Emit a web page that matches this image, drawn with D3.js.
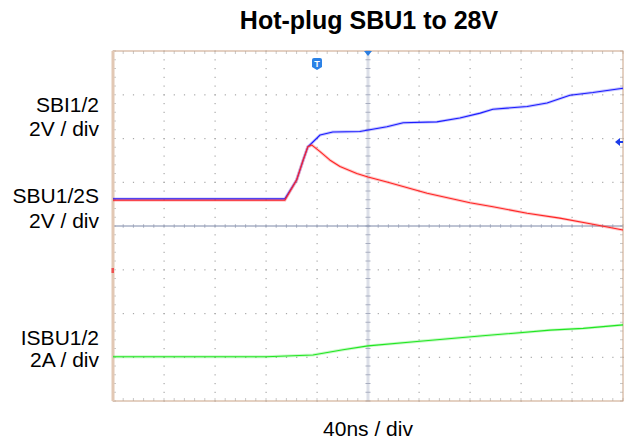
<!DOCTYPE html>
<html>
<head>
<meta charset="utf-8">
<script src="https://d3js.org/d3.v7.min.js"></script>
<style>
  body { margin: 0; background: #fff; }
  text { font-family: "Liberation Sans", Arial, sans-serif; }
</style>
</head>
<body>
<svg width="629" height="445"></svg>
<script>
var svg = d3.select('svg');

// scope screen: 10 horizontal divisions (40ns each), 8 vertical divisions, 0 = centre line
var bluePos = [0, 3.37, 3.60, 3.73, 3.82, 3.92, 4.06, 4.31, 4.84, 5.37, 5.69, 6.35, 6.80, 7.20, 7.45, 8.12, 8.51, 8.96, 9.41, 10];
var blueVal = [0.62, 0.62, 1.05, 1.51, 1.81, 1.92, 2.08, 2.15, 2.16, 2.27, 2.36, 2.38, 2.47, 2.58, 2.67, 2.73, 2.81, 2.99, 3.05, 3.15];

var redPos = [0, 3.37, 3.60, 3.73, 3.82, 3.90, 4.06, 4.25, 4.45, 4.78, 5.0, 5.39, 6.16, 7.0, 7.45, 8.12, 8.76, 9.41, 10];
var redVal = [0.59, 0.59, 1.05, 1.51, 1.81, 1.85, 1.70, 1.51, 1.36, 1.20, 1.12, 1.00, 0.75, 0.53, 0.44, 0.29, 0.18, 0.04, -0.09];

var greenPos = [0, 3.0, 3.92, 4.51, 5.0, 5.96, 7.25, 8.57, 9.22, 10];
var greenVal = [-2.99, -2.99, -2.95, -2.83, -2.74, -2.64, -2.51, -2.38, -2.34, -2.26];

var channelLabels = [
  {lines: ['SBI1/2', '2V / div'], y: [112, 136]},
  {lines: ['SBU1/2S', '2V / div'], y: [203, 228]},
  {lines: ['ISBU1/2', '2A / div'], y: [345, 367]}
];

var x = d3.scaleLinear().domain([0, 10]).range([113, 623]);
var y = d3.scaleLinear().domain([-4, 4]).range([401, 51]);

var minorX = d3.range(0, 10.01, 0.2);
var minorY = d3.range(-4, 4.01, 0.2);
var grid = svg.append('g');

// dotted major grid
d3.range(1, 10).forEach(function(i) {
  if (i == 5) return;
  grid.selectAll(null).data(minorY).enter().append('rect')
    .attr('x', x(i) - 0.5).attr('y', function(d) { return y(d) - 0.5; })
    .attr('width', 1.2).attr('height', 1.2).attr('fill', '#a8a8a8');
});
d3.range(-3, 4).forEach(function(j) {
  if (j == 0) return;
  grid.selectAll(null).data(minorX).enter().append('rect')
    .attr('x', function(d) { return x(d) - 0.5; }).attr('y', y(j) - 0.5)
    .attr('width', 1.2).attr('height', 1.2).attr('fill', '#a8a8a8');
});

// border ticks
grid.selectAll(null).data(minorX).enter().append('line')
  .attr('x1', function(d) { return x(d); }).attr('x2', function(d) { return x(d); })
  .attr('y1', y(4)).attr('y2', y(4) + 3).attr('stroke', '#c8c8c8');
grid.selectAll(null).data(minorX).enter().append('line')
  .attr('x1', function(d) { return x(d); }).attr('x2', function(d) { return x(d); })
  .attr('y1', y(-4)).attr('y2', y(-4) - 3).attr('stroke', '#c8c8c8');
grid.selectAll(null).data(minorY).enter().append('line')
  .attr('x1', x(0)).attr('x2', x(0) + 3)
  .attr('y1', function(d) { return y(d); }).attr('y2', function(d) { return y(d); })
  .attr('stroke', '#c8c8c8');
grid.selectAll(null).data(minorY).enter().append('line')
  .attr('x1', x(10)).attr('x2', x(10) - 3)
  .attr('y1', function(d) { return y(d); }).attr('y2', function(d) { return y(d); })
  .attr('stroke', '#c8c8c8');

// centre vertical line with ticks
grid.append('line')
  .attr('x1', x(5)).attr('x2', x(5)).attr('y1', y(4)).attr('y2', y(-4))
  .attr('stroke', '#dcdfe8').attr('stroke-width', 3);
grid.selectAll(null).data(minorY).enter().append('line')
  .attr('x1', x(5) - 2.5).attr('x2', x(5) + 2.5)
  .attr('y1', function(d) { return y(d); }).attr('y2', function(d) { return y(d); })
  .attr('stroke', '#a8aec0');

// centre horizontal line with ticks
grid.selectAll(null).data(minorX).enter().append('line')
  .attr('x1', function(d) { return x(d); }).attr('x2', function(d) { return x(d); })
  .attr('y1', y(0) - 2).attr('y2', y(0) + 2).attr('stroke', '#c0c4d0');
grid.append('line')
  .attr('x1', x(0)).attr('x2', x(10)).attr('y1', y(0)).attr('y2', y(0))
  .attr('stroke', '#7c88a8').attr('stroke-width', 1);

// frame
svg.append('rect')
  .attr('x', x(0)).attr('y', y(4))
  .attr('width', x(10) - x(0)).attr('height', y(-4) - y(4))
  .attr('fill', 'none').attr('stroke', '#c9a285').attr('stroke-width', 1);
svg.append('line')
  .attr('x1', x(0)).attr('x2', x(0)).attr('y1', y(4)).attr('y2', y(-4))
  .attr('stroke', '#e2c8b4').attr('stroke-width', 3);

// traces
function trace(pos, val, color) {
  var pts = pos.map(function(p, i) { return [p, val[i]]; });
  var line = d3.line()
    .x(function(d) { return x(d[0]); })
    .y(function(d) { return y(d[1]); });
  svg.append('path')
    .datum(pts)
    .attr('fill', 'none')
    .attr('stroke', color)
    .attr('stroke-opacity', 0.25)
    .attr('stroke-width', 3)
    .attr('d', line);
  svg.append('path')
    .datum(pts)
    .attr('fill', 'none')
    .attr('stroke', color)
    .attr('stroke-width', 1.1)
    .attr('stroke-linejoin', 'round')
    .attr('d', line);
}
trace(greenPos, greenVal, '#22e622');
trace(bluePos, blueVal, '#1c1cff');
trace(redPos, redVal, '#ff2424');

// markers
svg.append('path')
  .attr('d', 'M' + (x(5) - 4) + ',' + y(4) + 'L' + (x(5) + 4) + ',' + y(4) + 'L' + x(5) + ',' + (y(4) + 5) + 'Z')
  .attr('fill', '#2a7de0');
var tx = x(4.0), ty = 58;
svg.append('path')
  .attr('d', 'M' + (tx - 5) + ',' + (ty + 2) + 'Q' + (tx - 5) + ',' + ty + ' ' + (tx - 3) + ',' + ty +
    'L' + (tx + 3) + ',' + ty + 'Q' + (tx + 5) + ',' + ty + ' ' + (tx + 5) + ',' + (ty + 2) +
    'L' + (tx + 5) + ',' + (ty + 9) + 'L' + tx + ',' + (ty + 12) + 'L' + (tx - 5) + ',' + (ty + 9) + 'Z')
  .attr('fill', '#2b82e6');
svg.append('text')
  .attr('x', tx).attr('y', ty + 9)
  .attr('text-anchor', 'middle')
  .attr('font-size', 9).attr('font-weight', 'bold')
  .attr('fill', '#fff')
  .text('T');
svg.append('path')
  .attr('d', 'M' + (x(10) - 8) + ',' + (y(0) - 84) + 'L' + (x(10) - 3) + ',' + (y(0) - 88) + 'L' + (x(10) - 3) + ',' + (y(0) - 80) + 'Z')
  .attr('fill', '#1c3ce8');
svg.append('line')
  .attr('x1', x(10) - 4).attr('x2', x(10)).attr('y1', y(0) - 84).attr('y2', y(0) - 84)
  .attr('stroke', '#1c3ce8').attr('stroke-width', 2);
svg.append('rect')
  .attr('x', x(0) - 1.5).attr('y', 268).attr('width', 2.5).attr('height', 5)
  .attr('fill', '#f05050');

// labels
svg.append('text')
  .attr('x', 369).attr('y', 29)
  .attr('text-anchor', 'middle')
  .attr('font-size', 25).attr('font-weight', 'bold')
  .attr('fill', '#000')
  .text('Hot-plug SBU1 to 28V');

channelLabels.forEach(function(c) {
  c.lines.forEach(function(s, i) {
    svg.append('text')
      .attr('x', 99).attr('y', c.y[i])
      .attr('text-anchor', 'end')
      .attr('font-size', 21)
      .attr('fill', '#000')
      .text(s);
  });
});

svg.append('text')
  .attr('x', 368).attr('y', 436)
  .attr('text-anchor', 'middle')
  .attr('font-size', 21)
  .attr('fill', '#000')
  .text('40ns / div');
</script>
</body>
</html>
